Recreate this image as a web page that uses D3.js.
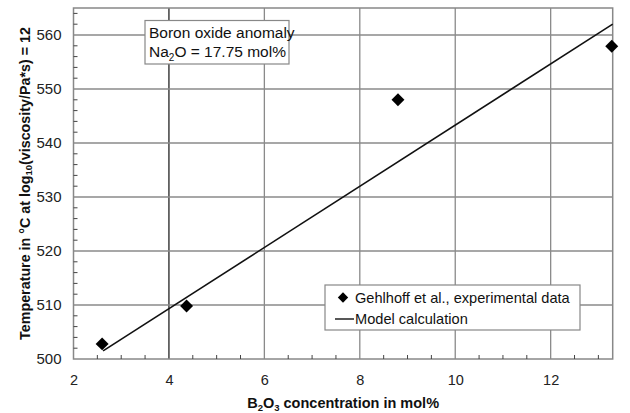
<!DOCTYPE html>
<html><head><meta charset="utf-8">
<script src="https://cdn.jsdelivr.net/npm/d3@7"></script>
<style>body{margin:0;background:#fff}svg{display:block}text{font-family:"Liberation Sans",Arial,sans-serif}</style>
</head><body>
<script>
const expX = [2.6, 4.37, 8.8, 13.28];
const expY = [502.8, 509.8, 548, 557.9];
const modelX = [2.62, 13.3];
const modelY = [501.5, 562];
const xTicks = [2, 4, 6, 8, 10, 12];
const yTicks = [500, 510, 520, 530, 540, 550, 560];

const W = 630, H = 413;
const svg = d3.select("body").append("svg").attr("width", W).attr("height", H);
const x = d3.scaleLinear().domain([2, 13.3]).range([73.5, 612.7]);
const y = d3.scaleLinear().domain([500, 565]).range([359, 8]);

const g = svg.append("g");
// grid
g.selectAll(".vg").data(xTicks.slice(1)).enter().append("line")
  .attr("x1", d => x(d)).attr("x2", d => x(d)).attr("y1", y(565)).attr("y2", y(500))
  .attr("stroke", d => d === 4 ? "#222" : "#8a8a8a").attr("stroke-width", 1.3);
g.selectAll(".hg").data(yTicks.slice(1)).enter().append("line")
  .attr("y1", d => y(d)).attr("y2", d => y(d)).attr("x1", x(2)).attr("x2", x(13.3))
  .attr("stroke", "#8a8a8a").attr("stroke-width", 1.3);
// frame
g.append("rect").attr("x", x(2)).attr("y", y(565)).attr("width", x(13.3) - x(2)).attr("height", y(500) - y(565))
  .attr("fill", "none").attr("stroke", "#888").attr("stroke-width", 1.5);

// axes
const xAxis = d3.axisBottom(x).tickValues(xTicks).tickSize(0).tickPadding(16).tickFormat(d3.format("d"));
const xa = svg.append("g").attr("transform", `translate(0,${y(500)})`).call(xAxis);
xa.select(".domain").remove();
xa.selectAll("text").attr("font-size", 14.5).attr("fill", "#222");
const xMinor = d3.range(2.5, 13.3, 0.5).filter(v => Math.abs(v - Math.round(v/2)*2) > 1e-6);
svg.append("g").selectAll("line").data(xMinor).enter().append("line")
  .attr("x1", d => x(d)).attr("x2", d => x(d)).attr("y1", y(500)).attr("y2", y(500) - 4)
  .attr("stroke", "#444").attr("stroke-width", 1);

const yAxis = d3.axisLeft(y).tickValues(yTicks).tickSize(0).tickPadding(12).tickFormat(d3.format("d"));
const ya = svg.append("g").attr("transform", `translate(${x(2)},0)`).call(yAxis);
ya.select(".domain").remove();
ya.selectAll("text").attr("font-size", 15).attr("fill", "#222");
const yMinor = d3.range(502, 565, 2).filter(v => v % 10 !== 0);
svg.append("g").selectAll("line").data(yMinor).enter().append("line")
  .attr("x1", x(2)).attr("x2", x(2) + 4).attr("y1", d => y(d)).attr("y2", d => y(d))
  .attr("stroke", "#444").attr("stroke-width", 1);

// model line
const line = d3.line().x(d => x(d[0])).y(d => y(d[1]));
svg.append("path").datum(d3.zip(modelX, modelY)).attr("d", line)
  .attr("fill", "none").attr("stroke", "#111").attr("stroke-width", 1.6);

// points
const diamond = d3.symbol().type(d3.symbolSquare).size(84);
svg.append("g").selectAll("path").data(d3.zip(expX, expY)).enter().append("path")
  .attr("d", diamond).attr("transform", d => `translate(${x(d[0])},${y(d[1])}) rotate(45)`)
  .attr("fill", "#000");

// annotation box
svg.append("rect").attr("x", 145).attr("y", 20.5).attr("width", 144).attr("height", 43.5)
  .attr("fill", "#fff").attr("stroke", "#888").attr("stroke-width", 1.2);
svg.append("text").attr("x", 149).attr("y", 37.5).attr("font-size", 15.5).attr("fill", "#111").text("Boron oxide anomaly");
const t2 = svg.append("text").attr("x", 149).attr("y", 57).attr("font-size", 15.5).attr("fill", "#111");
t2.append("tspan").text("Na");
t2.append("tspan").attr("font-size", 10).attr("dy", 4).text("2");
t2.append("tspan").attr("dy", -4).text("O = 17.75 mol%");

// legend
svg.append("rect").attr("x", 325).attr("y", 285).attr("width", 255).attr("height", 45)
  .attr("fill", "#fff").attr("stroke", "#888").attr("stroke-width", 1.2);
svg.append("path").attr("d", diamond).attr("fill", "#000").attr("transform", "translate(343,297.5) rotate(45) scale(0.8)");
svg.append("text").attr("x", 355).attr("y", 302.5).attr("font-size", 14.6).attr("fill", "#111").text("Gehlhoff et al., experimental data");
svg.append("line").attr("x1", 335).attr("x2", 354).attr("y1", 319).attr("y2", 319).attr("stroke", "#111").attr("stroke-width", 1.4);
svg.append("text").attr("x", 355).attr("y", 324).attr("font-size", 14.6).attr("fill", "#111").text("Model calculation");

// x title
const xt = svg.append("text").attr("x", (x(2) + x(13.3)) / 2).attr("y", 408).attr("text-anchor", "middle")
  .attr("font-size", 14.5).attr("font-weight", "bold").attr("fill", "#111");
xt.append("tspan").text("B");
xt.append("tspan").attr("font-size", 9.5).attr("dy", 2.5).text("2");
xt.append("tspan").attr("dy", -2.5).text("O");
xt.append("tspan").attr("font-size", 9.5).attr("dy", 2.5).text("3");
xt.append("tspan").attr("dy", -2.5).text(" concentration in mol%");

// y title
const yt = svg.append("text").attr("transform", `translate(30,${(y(500) + y(565)) / 2}) rotate(-90)`)
  .attr("text-anchor", "middle").attr("font-size", 14.3).attr("font-weight", "bold").attr("fill", "#111");
yt.append("tspan").text("Temperature in °C at log");
yt.append("tspan").attr("font-size", 9.5).attr("dy", 2).text("10");
yt.append("tspan").attr("dy", -2).text("(viscosity/Pa*s) = 12");
</script>
</body></html>
